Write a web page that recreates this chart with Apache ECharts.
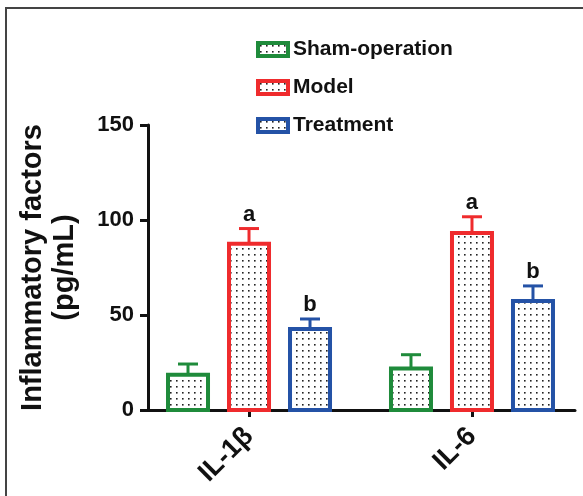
<!DOCTYPE html>
<html>
<head>
<meta charset="utf-8">
<script src="https://cdn.jsdelivr.net/npm/echarts@6/dist/echarts.min.js"></script>
<style>html,body{margin:0;padding:0;background:#fff;}#c{width:583px;height:496px;}</style>
</head>
<body>
<div id="c"></div>
<script>
var categories = ['IL-1\u03b2', 'IL-6'];
var groupNames = ['Sham-operation', 'Model', 'Treatment'];
var shamMean = [18.5, 21.8];
var shamErr = [5.7, 7.3];
var modelMean = [87.5, 93.2];
var modelErr = [8.0, 8.5];
var treatMean = [42.6, 57.4];
var treatErr = [5.3, 7.9];
var modelLetters = ['a', 'a'];
var treatLetters = ['b', 'b'];
var shamLetters = ['', ''];
var yTicks = [0, 50, 100, 150];

var colors = ['#1f8b3b', '#ef2b2d', '#2452a6'];
var FONT = '"Liberation Sans", Arial, sans-serif';

function makePattern() {
  var cv = document.createElement('canvas');
  cv.width = 6; cv.height = 6;
  var ctx = cv.getContext('2d');
  ctx.fillStyle = '#ffffff';
  ctx.fillRect(0, 0, 6, 6);
  ctx.fillStyle = '#222222';
  ctx.fillRect(2, 2, 1.6, 1.6);
  return { image: cv, repeat: 'repeat' };
}
var pattern = makePattern();

var offsets = [-61, 0, 61];
var barW = 40;

function buildData(means, errs) {
  return means.map(function (m, i) { return [i, m, errs[i]]; });
}

function makeRender(si) {
  return function (params, api) {
    var cat = api.value(0), mean = api.value(1), err = api.value(2);
    var base = api.coord([cat, 0]);
    var top = api.coord([cat, mean]);
    var capP = api.coord([cat, mean + err]);
    var cx = base[0] + offsets[si];
    var col = colors[si];
    var lettersArr = [shamLetters, modelLetters, treatLetters][si];
    var txt = lettersArr[params.dataIndex];
    var children = [
      { type: 'line', shape: { x1: cx, y1: top[1], x2: cx, y2: capP[1] }, style: { stroke: col, lineWidth: 3 } },
      { type: 'line', shape: { x1: cx - 10, y1: capP[1], x2: cx + 10, y2: capP[1] }, style: { stroke: col, lineWidth: 3 } },
      { type: 'rect', shape: { x: cx - barW / 2, y: top[1], width: barW, height: base[1] - top[1] }, style: { fill: pattern, stroke: col, lineWidth: 4 } }
    ];
    if (txt) {
      children.push({ type: 'text', style: { text: txt, x: cx, y: capP[1] - 3, align: 'center', verticalAlign: 'bottom', font: 'bold 22px ' + FONT, fill: '#111' } });
    }
    return { type: 'group', children: children };
  };
}

var allMeans = [shamMean, modelMean, treatMean];
var allErrs = [shamErr, modelErr, treatErr];

var series = groupNames.map(function (name, si) {
  return {
    name: name,
    type: 'custom',
    renderItem: makeRender(si),
    itemStyle: { color: pattern, borderColor: colors[si], borderWidth: 4 },
    encode: { x: 0, y: 1 },
    data: buildData(allMeans[si], allErrs[si]),
    z: 3
  };
});

var chart = echarts.init(document.getElementById('c'), null, { renderer: 'canvas' });
chart.setOption({
  animation: false,
  backgroundColor: '#ffffff',
  textStyle: { fontFamily: FONT },
  grid: { left: 148, right: 8, top: 125, bottom: 86, containLabel: false },
  legend: {
    orient: 'vertical',
    left: 256,
    top: 39,
    padding: 0,
    itemWidth: 30,
    itemHeight: 13,
    itemGap: 17,
    icon: 'rect',
    selectedMode: false,
    textStyle: { fontSize: 21, fontWeight: 'bold', color: '#111', fontFamily: FONT },
    data: groupNames.map(function (n, i) {
      return { name: n, itemStyle: { color: pattern, borderColor: colors[i], borderWidth: 4 } };
    })
  },
  xAxis: {
    type: 'value',
    min: -0.453,
    max: 1.462,
    splitLine: { show: false },
    axisLine: { show: true, onZero: false, lineStyle: { color: '#111', width: 3 } },
    axisTick: { show: true, length: 7, lineStyle: { color: '#111', width: 3 }, customValues: [0, 1] },
    axisLabel: {
      customValues: [0, 1],
      formatter: function (v) { return categories[Math.round(v)]; },
      rotate: 45,
      margin: 22,
      fontSize: 27,
      fontWeight: 'bold',
      color: '#111'
    }
  },
  yAxis: {
    type: 'value',
    min: 0,
    max: 150,
    interval: 50,
    splitLine: { show: false },
    axisLine: { show: true, onZero: false, lineStyle: { color: '#111', width: 3 } },
    axisTick: { show: true, length: 8, lineStyle: { color: '#111', width: 3 } },
    axisLabel: {
      customValues: yTicks,
      fontSize: 22,
      fontWeight: 'bold',
      color: '#111',
      margin: 14
    },
    name: 'Inflammatory factors\n(pg/mL)',
    nameLocation: 'middle',
    nameGap: 67,
    nameRotate: 90,
    nameTextStyle: { fontSize: 29, fontWeight: 'bold', color: '#111', lineHeight: 32 }
  },
  graphic: [
    { type: 'polyline', shape: { points: [[6, 496], [6, 8], [583, 8]] }, style: { stroke: '#444', lineWidth: 2, fill: null }, z: 10 }
  ],
  series: series
});
</script>
</body>
</html>
